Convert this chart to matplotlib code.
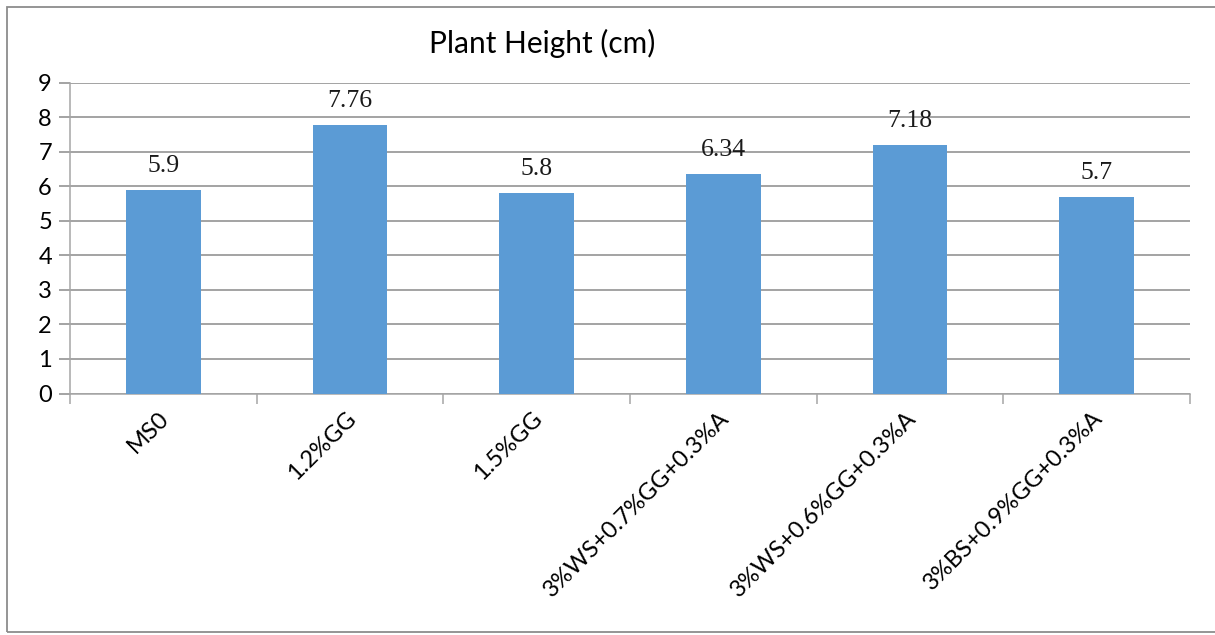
import matplotlib
matplotlib.use("Agg")
import matplotlib.pyplot as plt
from matplotlib.patches import Rectangle
import numpy as np

categories = ["MS0", "1.2%GG", "1.5%GG", "3%WS+0.7%GG+0.3%A",
              "3%WS+0.6%GG+0.3%A", "3%BS+0.9%GG+0.3%A"]
values = [5.9, 7.76, 5.8, 6.34, 7.18, 5.7]
value_labels = ["5.9", "7.76", "5.8", "6.34", "7.18", "5.7"]
yticks = [0, 1, 2, 3, 4, 5, 6, 7, 8, 9]
title = "Plant Height (cm)"

W, H = 1215, 635
fig = plt.figure(figsize=(W / 100, H / 100), dpi=100)
fig.patch.set_facecolor("white")

# outer chart border (extends past right edge as in reference)
fig.patches.append(Rectangle((7 / W, 3 / H), 1.5, (632 - 7) / H,
                             transform=fig.transFigure, fill=False,
                             edgecolor="#8c8c8c", linewidth=1.3, clip_on=True))

left, right = 70 / W, 1190 / W
bottom, top = 1 - 393.5 / H, 1 - 82.5 / H
ax = fig.add_axes([left, bottom, right - left, top - bottom])

grid_col = "#8a8a8a"
x = np.arange(len(categories))
ax.bar(x, values, width=0.4, color="#5B9BD5", zorder=3)
ax.set_xlim(-0.5, len(categories) - 0.5)
ax.set_ylim(0, 9)
ax.set_yticks(yticks)
ax.set_yticklabels([str(t) for t in yticks], fontfamily="Lato", fontsize=17)
ax.yaxis.grid(True, color=grid_col, linewidth=1.1, zorder=0)
ax.tick_params(axis="y", length=8, width=1.1, color=grid_col, pad=5)

for s in ["top", "right"]:
    ax.spines[s].set_visible(False)
for s in ["left", "bottom"]:
    ax.spines[s].set_color("#a6a6a6")
    ax.spines[s].set_linewidth(1.1)

# category boundary ticks
ax.set_xticks(np.arange(-0.5, len(categories) + 0.5, 1.0))
ax.set_xticklabels([])
ax.tick_params(axis="x", length=7, width=1.1, color="#a6a6a6")

for i, lab in enumerate(categories):
    ax.annotate(lab, xy=(x[i], 0), xycoords=("data", "axes fraction"),
                xytext=(-5, -14), textcoords="offset pixels",
                rotation=45, rotation_mode="anchor", ha="right", va="top",
                fontfamily="Lato", fontsize=17, color="black")

for i, (v, lab) in enumerate(zip(values, value_labels)):
    ax.annotate(lab, xy=(x[i], v), xytext=(0, 13), textcoords="offset pixels",
                ha="center", va="bottom", fontfamily="Liberation Serif",
                fontsize=18.5, color="#1a1a1a")

fig.text(542 / W, 1 - 43 / H, title, ha="center", va="center",
         fontfamily="Lato", fontsize=21.5, color="black")

fig.savefig("out.png", dpi=100)
